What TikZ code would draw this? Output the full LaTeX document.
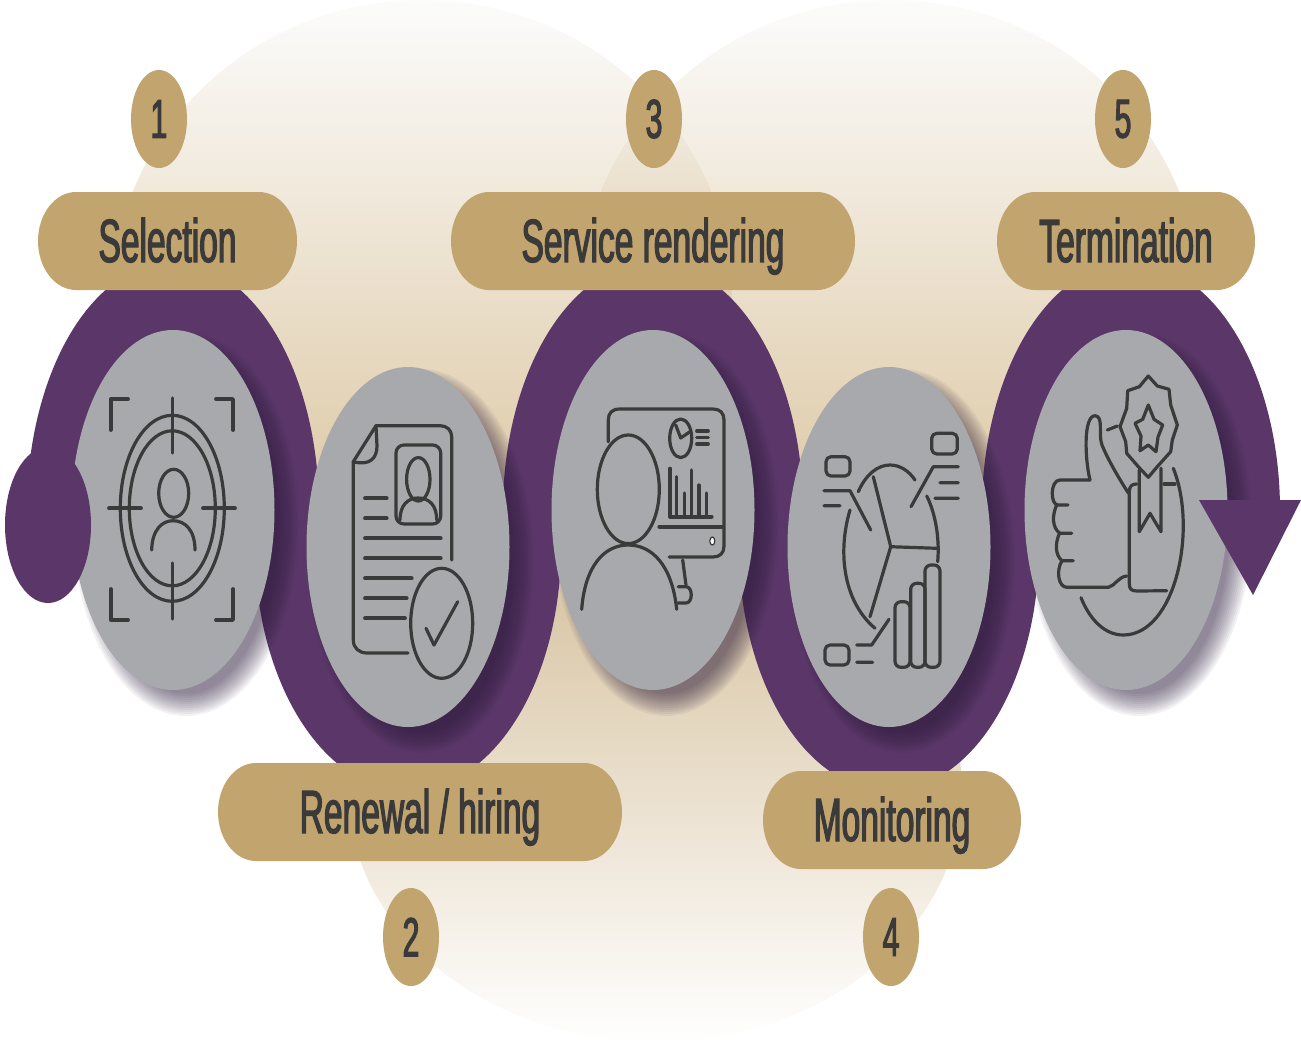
\documentclass[tikz,border=0pt]{standalone}
\usepackage{fontspec}
\usetikzlibrary{shapes.geometric}
\newfontfamily\pillfont[FakeStretch=0.55,FakeBold=2]{Liberation Sans}
\definecolor{bandpurple}{HTML}{5A3768}
\definecolor{shadepurple}{HTML}{2A1A3A}
\definecolor{bubblegrey}{HTML}{A7A9AC}
\definecolor{pillgold}{HTML}{C2A46F}
\definecolor{inkdark}{HTML}{3A3A3A}
\newcommand{\pillshape}[3]{\fill[pillgold] (#1+38,#3) -- (#2-38,#3) arc[start angle=270, end angle=450, x radius=38, y radius=49] -- (#1+38,#3+98) arc[start angle=90, end angle=270, x radius=38, y radius=49] -- cycle;}
\tikzset{
  lobetop/.style={top color=white!98!black, middle color={rgb,255:red,214;green,197;blue,165}, bottom color={rgb,255:red,190;green,150;blue,80}, fill opacity=0.6},
  lobelow/.style={top color={rgb,255:red,185;green,150;blue,90}, middle color={rgb,255:red,217;green,199;blue,168}, bottom color=white, fill opacity=0.6},
  band/.style={fill=bandpurple},
  bubble/.style={ellipse, fill=bubblegrey, inner sep=0pt, minimum width=203pt, minimum height=360pt},
  pill/.style={rectangle, text=inkdark, inner sep=0pt, text height=55pt, text depth=13pt, font=\pillfont\fontsize{61}{61}\selectfont},
  badge/.style={ellipse, fill=pillgold, text=inkdark, inner sep=0pt, minimum width=56pt, minimum height=98pt, font=\pillfont\fontsize{55}{55}\selectfont},
  icn/.style={draw=inkdark, line width=3.8pt, line cap=round, line join=round},
  thn/.style={draw=inkdark, line width=3.2pt, line cap=round, line join=round}
}
\begin{document}
\begin{tikzpicture}[x=1pt,y=-1pt]
  \useasboundingbox (0,0) rectangle (1301,1042);
  % background lobes
  \shade[lobetop] (422,300) ellipse (310 and 300);
  \shade[lobetop] (890,300) ellipse (310 and 300);
  \shade[lobelow] (655,790) ellipse (307 and 252);
  % ribbon
  \fill[band] (173,510) ++(167:146 and 248) arc[start angle=167, end angle=373, x radius=146, y radius=248] -- cycle;
  \fill[band] (408,547) ++(191:153 and 244) arc[start angle=191, end angle=-11, x radius=153, y radius=244] -- cycle;
  \fill[band] (653,510) ++(167:150 and 248) arc[start angle=167, end angle=373, x radius=150, y radius=248] -- cycle;
  \fill[band] (889,547) ++(191:150 and 244) arc[start angle=191, end angle=-11, x radius=150, y radius=244] -- cycle;
  \fill[band] (1131,510) ++(167:149 and 248) arc[start angle=167, end angle=357.7, x radius=149, y radius=248] -- cycle;
  % shadows
  \foreach \cx/\cy in {173/510,408/547,653/510,889/547,1126/510}
    \foreach \r in {-10,-8,-6,-4,-2,0,2,4,6,8,10,12}
      \fill[shadepurple, fill opacity=0.06] (\cx+13,\cy+14) ellipse [x radius=101+\r, y radius=180+\r];
  % bubbles
  \node[bubble] (b1) at (173,510) {};
  \node[bubble] (b2) at (408,547) {};
  \node[bubble] (b3) at (653,510) {};
  \node[bubble] (b4) at (889,547) {};
  \node[bubble] (b5) at (1126,510) {};
  % ribbon ends
  \fill[band] (48,525) ellipse (43 and 78);
  \fill[band] (1199,500) -- (1301,500) -- (1253,595) -- cycle;
  % labels
  \pillshape{38}{297}{192}
  \pillshape{218}{622}{763}
  \pillshape{451}{855}{192}
  \pillshape{763}{1021}{771}
  \pillshape{997}{1255}{192}
  \node[pill] (pSel) at (167.5,241) {Selection};
  \node[pill] (pRen) at (420,812) {Renewal / hiring};
  \node[pill] (pSrv) at (653,241) {Service rendering};
  \node[pill] (pMon) at (892,820) {Monitoring};
  \node[pill] (pTer) at (1126,241) {Termination};
  \node[badge] (n1) at (159,119) {1};
  \node[badge] (n2) at (411,937) {2};
  \node[badge] (n3) at (654,119) {3};
  \node[badge] (n4) at (891,937) {4};
  \node[badge] (n5) at (1123,119) {5};
  % target icon
  \draw[thn] (172.3,508.3) ellipse (52 and 93);
  \draw[thn] (172.3,508.3) ellipse (43 and 77.5);
  \draw[thn] (172.3,398) -- (172.3,453) (172.3,563) -- (172.3,619);
  \draw[icn] (109,508.3) -- (141,508.3) (203,508.3) -- (235,508.3);
  \draw[icn] (110.7,430) -- (110.7,399) -- (128,399) (216,399) -- (233,399) -- (233,430);
  \draw[icn] (110.7,589) -- (110.7,620) -- (128,620) (216,620) -- (233,620) -- (233,589);
  \draw[thn] (173.7,493.3) ellipse (15 and 24);
  \draw[thn] (151.7,550) .. controls (152,530) and (162,520.7) .. (173,520.7) .. controls (185,520.7) and (195,530) .. (195,550);
  % document icon
  \draw[thn] (451.7,560) -- (451.7,437) .. controls (451.7,430) and (447,425.7) .. (440,425.7) -- (376,425.7) -- (353.3,461.7) -- (353.3,640) .. controls (353.3,648) and (359,653) .. (367,653) -- (408,653);
  \draw[thn] (376,425.7) -- (377,446) .. controls (377,458) and (370,466) .. (353.3,461.7);
  \draw[thn, rounded corners=8pt] (396,445) rectangle (440.7,524);
  \draw[thn] (418.3,479.3) ellipse (11.7 and 21.7);
  \draw[thn] (400,520) .. controls (400,505) and (408,498) .. (418,498) .. controls (429,498) and (436.7,505) .. (436.7,520);
  \draw[icn] (365,498.3) -- (386.7,498.3) (365,518.3) -- (386.7,518.3) (365,538.3) -- (440.7,538.3) (365,558.3) -- (440.7,558.3) (365,578.3) -- (411.7,578.3) (365,598.3) -- (406.7,598.3) (365,618.3) -- (405,618.3);
  \draw[thn] (441.7,623.3) ellipse (31 and 55);
  \draw[thn] (426,628.3) -- (434,645) -- (457.7,601.7);
  % presentation icon
  \draw[thn] (608.3,441.7) -- (608.3,420) .. controls (608.3,413) and (612,409) .. (620,409) -- (713,409) .. controls (720,409) and (724,413) .. (724,420) -- (724,546) .. controls (724,553) and (720,557) .. (713,557) -- (669.3,557);
  \draw[icn] (659.3,526.7) -- (721.7,526.7);
  \draw[draw=inkdark, fill=white, line width=1.2pt] (712.3,541) ellipse (2.5 and 4);
  \draw[thn] (682.7,560) -- (686,585);
  \draw[thn] (678.3,586.7) -- (686,586.7) .. controls (693,586.7) and (693,603) .. (686,603) -- (678,603);
  \draw[thn] (628.3,489.3) ellipse (31 and 54.3);
  \draw[thn] (581.7,609.3) .. controls (585,565) and (605,545) .. (628,545) .. controls (652,545) and (672,565) .. (676.7,609.3);
  \draw[thn] (680.7,438.3) ellipse (11 and 19.3);
  \draw[thn] (675.7,425) -- (680.7,438) -- (690,431.7);
  \draw[thn] (696.7,431) -- (708.3,431) (696.7,437.3) -- (708.3,437.3) (696.7,444) -- (708.3,444);
  \draw[icn] (670,516.7) -- (711.7,516.7);
  \draw[thn] (670,516.7) -- (670,468.3) (676.7,516.7) -- (676.7,476.7) (684.3,516.7) -- (684.3,493) (691.7,516.7) -- (691.7,470) (699,516.7) -- (699,485) (706.7,516.7) -- (706.7,493);
  % pie icon
  \draw[thn] (873.3,476.7) -- (890.7,546.7) -- (870,616.7) (890.7,546.7) -- (936.7,548.3);
  \draw[thn] (858.3,491.7) .. controls (866,474) and (878,465) .. (890,465) .. controls (900,465) and (909,471) .. (915,480);
  \draw[thn] (926.7,496) .. controls (934,510) and (940,535) .. (937.7,561.7);
  \draw[thn] (850,510) .. controls (838,550) and (842,600) .. (875,628.3);
  \draw[thn, rounded corners=5pt] (826,456.7) rectangle (850,476);
  \draw[thn, rounded corners=5pt] (931.7,433.3) rectangle (957.3,454);
  \draw[thn, rounded corners=5pt] (825,645) rectangle (849,665);
  \draw[thn] (824,490.7) -- (850,490.7) -- (870.7,530) (824,505.7) -- (840,505.7);
  \draw[thn] (958.3,466.7) -- (933.3,466.7) -- (911,506.7) (940,482.7) -- (958.3,482.7) (935,498.3) -- (958.3,498.3);
  \draw[thn] (856.7,645) -- (871.7,645) -- (889,619.3) (856.7,662.3) -- (872.7,662.3);
  \draw[thn, rounded corners=6pt] (895,667.3) rectangle (910,601.7);
  \draw[thn, rounded corners=6pt] (910.7,667.3) rectangle (925,583.3);
  \draw[thn, rounded corners=6pt] (925,667.3) rectangle (940,565);
  % award icon
  \draw[thn] (1090,480) .. controls (1085,460) and (1083,416) .. (1095,415.7) .. controls (1104,416) and (1098,435) .. (1102,445) .. controls (1108,460) and (1120,480) .. (1128.3,493);
  \draw[thn] (1090,480) -- (1060,480) .. controls (1050,480) and (1050,505) .. (1058,505) -- (1068,505);
  \draw[thn] (1056.7,505) .. controls (1052,515) and (1052,528) .. (1060,533.3) -- (1071.7,533.3);
  \draw[thn] (1059.5,533.3) .. controls (1055,543) and (1055,555) .. (1062,560.7) -- (1073.3,560.7);
  \draw[thn] (1062,560.7) .. controls (1056,570) and (1058,587.3) .. (1067,587.3) -- (1108.3,587.3) .. controls (1115,586) and (1118,577) .. (1126.7,576);
  \draw[thn] (1136.7,484) .. controls (1132,484) and (1129.3,486) .. (1129.3,492) -- (1129.3,583) .. controls (1129.3,589) and (1131,591) .. (1137,591) -- (1166.7,590.7);
  \draw[thn] (1164,484) -- (1175,484);
  \draw[thn] (1173.3,468.3) .. controls (1198,530) and (1175,635) .. (1123.3,635) .. controls (1105,635) and (1090,620) .. (1081,597.7);
  \draw[thn] (1107.3,430) -- (1117.3,426);
  \draw[thn] (1148.3,376) -- (1157.3,386) -- (1169,389.3) -- (1170.7,405) -- (1177.3,425) -- (1172.3,440) -- (1170.7,451.7) -- (1156.7,467.3) -- (1148.3,477.3) -- (1138.3,466.7) -- (1126.7,453.3) -- (1125.7,441.7) -- (1120,426.7) -- (1126.7,408.3) -- (1127.7,390.7) -- (1139.3,386.7) -- cycle;
  \draw[thn] (1148.3,405) -- (1154,419.3) -- (1162.7,425) -- (1158,437) -- (1156,451.7) -- (1148.3,445) -- (1140,450.7) -- (1141,436) -- (1135,423.3) -- (1142.7,419.3) -- cycle;
  \draw[thn] (1139.3,470) -- (1139.3,531.7) -- (1150,513.3) -- (1161,531.7) -- (1161,468.3);
\end{tikzpicture}
\end{document}
